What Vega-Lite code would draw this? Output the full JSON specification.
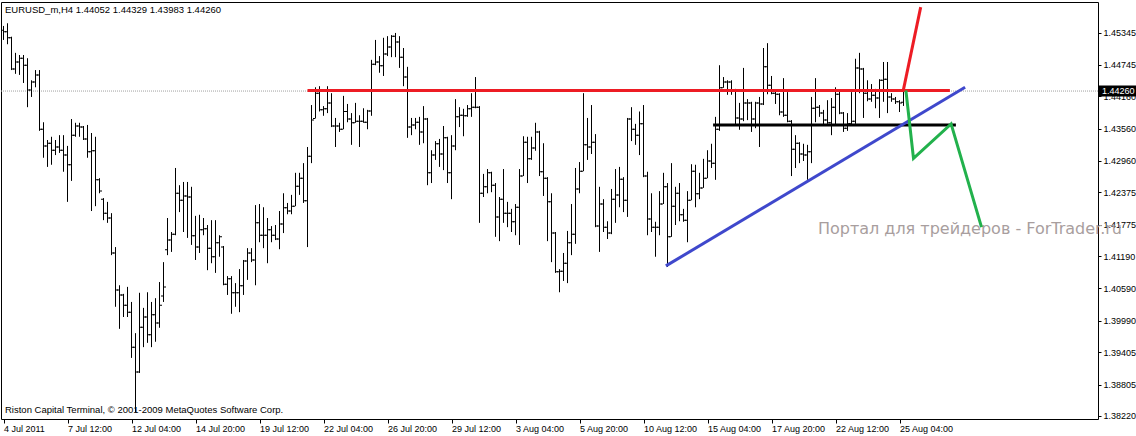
{
  "$schema": "https://vega.github.io/schema/vega-lite/v6.json",
  "width": 1097,
  "height": 417,
  "autosize": {"type": "none"},
  "padding": {"left": 1, "top": 2, "right": 38, "bottom": 17},
  "background": "white",
  "config": {"view": {"stroke": "black", "strokeWidth": 1}, "font": "Liberation Sans", "axis": {"labelOverlap": false, "labelSeparation": 0}},
  "datasets": {
    "bars": [
      {"i":0,"o":1.4539,"h":1.4547,"l":1.4521,"c":1.4536},
      {"i":1,"o":1.4536,"h":1.4552,"l":1.4513,"c":1.4525},
      {"i":2,"o":1.4525,"h":1.4527,"l":1.4465,"c":1.4467},
      {"i":3,"o":1.4467,"h":1.4497,"l":1.4458,"c":1.4480},
      {"i":4,"o":1.4480,"h":1.4493,"l":1.4456,"c":1.4487},
      {"i":5,"o":1.4487,"h":1.4493,"l":1.4441,"c":1.4474},
      {"i":6,"o":1.4474,"h":1.4487,"l":1.4396,"c":1.4428},
      {"i":7,"o":1.4428,"h":1.4446,"l":1.4415,"c":1.4443},
      {"i":8,"o":1.4443,"h":1.4465,"l":1.4433,"c":1.4456},
      {"i":9,"o":1.4456,"h":1.4465,"l":1.4352,"c":1.4355},
      {"i":10,"o":1.4355,"h":1.4368,"l":1.4302,"c":1.4324},
      {"i":11,"o":1.4324,"h":1.4335,"l":1.4285,"c":1.4329},
      {"i":12,"o":1.4329,"h":1.4341,"l":1.4289,"c":1.4316},
      {"i":13,"o":1.4316,"h":1.4335,"l":1.4307,"c":1.4322},
      {"i":14,"o":1.4322,"h":1.4344,"l":1.4311,"c":1.4316},
      {"i":15,"o":1.4316,"h":1.4344,"l":1.4276,"c":1.4307},
      {"i":16,"o":1.4307,"h":1.4324,"l":1.4220,"c":1.4289},
      {"i":17,"o":1.4289,"h":1.4374,"l":1.4259,"c":1.4344},
      {"i":18,"o":1.4344,"h":1.4367,"l":1.4341,"c":1.4361},
      {"i":19,"o":1.4361,"h":1.4367,"l":1.4341,"c":1.4359},
      {"i":20,"o":1.4359,"h":1.4361,"l":1.4335,"c":1.4337},
      {"i":21,"o":1.4337,"h":1.4363,"l":1.4302,"c":1.4313},
      {"i":22,"o":1.4313,"h":1.4348,"l":1.4203,"c":1.4315},
      {"i":23,"o":1.4315,"h":1.4341,"l":1.4212,"c":1.4261},
      {"i":24,"o":1.4261,"h":1.4264,"l":1.4236,"c":1.4240},
      {"i":25,"o":1.4225,"h":1.4227,"l":1.4186,"c":1.4199},
      {"i":26,"o":1.4199,"h":1.4220,"l":1.4181,"c":1.4190},
      {"i":27,"o":1.4190,"h":1.4199,"l":1.4121,"c":1.4125},
      {"i":28,"o":1.4125,"h":1.4136,"l":1.4025,"c":1.4056},
      {"i":29,"o":1.4056,"h":1.4065,"l":1.3984,"c":1.4047},
      {"i":30,"o":1.4047,"h":1.4049,"l":1.4006,"c":1.4028},
      {"i":31,"o":1.4028,"h":1.4062,"l":1.4006,"c":1.4015},
      {"i":32,"o":1.4015,"h":1.4034,"l":1.3930,"c":1.3950},
      {"i":33,"o":1.3950,"h":1.3976,"l":1.3829,"c":1.3904},
      {"i":34,"o":1.3904,"h":1.4051,"l":1.3902,"c":1.3987},
      {"i":35,"o":1.3987,"h":1.4023,"l":1.3950,"c":1.4006},
      {"i":36,"o":1.4006,"h":1.4052,"l":1.3958,"c":1.3973},
      {"i":37,"o":1.3973,"h":1.4034,"l":1.3950,"c":1.4010},
      {"i":38,"o":1.4010,"h":1.4041,"l":1.3960,"c":1.3995},
      {"i":39,"o":1.3995,"h":1.4071,"l":1.3986,"c":1.4028},
      {"i":40,"o":1.4045,"h":1.4108,"l":1.4034,"c":1.4062},
      {"i":41,"o":1.4131,"h":1.4190,"l":1.4121,"c":1.4149},
      {"i":42,"o":1.4149,"h":1.4164,"l":1.4127,"c":1.4160},
      {"i":43,"o":1.4160,"h":1.4283,"l":1.4158,"c":1.4236},
      {"i":44,"o":1.4236,"h":1.4251,"l":1.4201,"c":1.4223},
      {"i":45,"o":1.4223,"h":1.4257,"l":1.4164,"c":1.4231},
      {"i":46,"o":1.4231,"h":1.4257,"l":1.4153,"c":1.4229},
      {"i":47,"o":1.4229,"h":1.4248,"l":1.4140,"c":1.4157},
      {"i":48,"o":1.4157,"h":1.4194,"l":1.4112,"c":1.4136},
      {"i":49,"o":1.4136,"h":1.4196,"l":1.4125,"c":1.4168},
      {"i":50,"o":1.4168,"h":1.4190,"l":1.4158,"c":1.4170},
      {"i":51,"o":1.4170,"h":1.4177,"l":1.4093,"c":1.4134},
      {"i":52,"o":1.4134,"h":1.4186,"l":1.4106,"c":1.4118},
      {"i":53,"o":1.4118,"h":1.4186,"l":1.4088,"c":1.4144},
      {"i":54,"o":1.4144,"h":1.4158,"l":1.4118,"c":1.4155},
      {"i":55,"o":1.4136,"h":1.4138,"l":1.4065,"c":1.4067},
      {"i":56,"o":1.4067,"h":1.4082,"l":1.4047,"c":1.4077},
      {"i":57,"o":1.4077,"h":1.4082,"l":1.4012,"c":1.4051},
      {"i":58,"o":1.4051,"h":1.4069,"l":1.4025,"c":1.4051},
      {"i":59,"o":1.4051,"h":1.4095,"l":1.4015,"c":1.4064},
      {"i":60,"o":1.4064,"h":1.4112,"l":1.4047,"c":1.4110},
      {"i":61,"o":1.4110,"h":1.4134,"l":1.4075,"c":1.4125},
      {"i":62,"o":1.4125,"h":1.4134,"l":1.4108,"c":1.4112},
      {"i":63,"o":1.4112,"h":1.4214,"l":1.4065,"c":1.4181},
      {"i":64,"o":1.4181,"h":1.4216,"l":1.4145,"c":1.4158},
      {"i":65,"o":1.4158,"h":1.4210,"l":1.4134,"c":1.4158},
      {"i":66,"o":1.4158,"h":1.4190,"l":1.4106,"c":1.4168},
      {"i":67,"o":1.4168,"h":1.4175,"l":1.4145,"c":1.4158},
      {"i":68,"o":1.4158,"h":1.4177,"l":1.4149,"c":1.4151},
      {"i":69,"o":1.4151,"h":1.4203,"l":1.4132,"c":1.4179},
      {"i":70,"o":1.4179,"h":1.4236,"l":1.4162,"c":1.4209},
      {"i":71,"o":1.4209,"h":1.4218,"l":1.4197,"c":1.4203},
      {"i":72,"o":1.4203,"h":1.4233,"l":1.4197,"c":1.4212},
      {"i":73,"o":1.4212,"h":1.4274,"l":1.4212,"c":1.4249},
      {"i":74,"o":1.4249,"h":1.4274,"l":1.4233,"c":1.4264},
      {"i":75,"o":1.4264,"h":1.4292,"l":1.4218,"c":1.4222},
      {"i":76,"o":1.4222,"h":1.4322,"l":1.4136,"c":1.4305},
      {"i":77,"o":1.4305,"h":1.4400,"l":1.4292,"c":1.4372},
      {"i":78,"o":1.4375,"h":1.4433,"l":1.4375,"c":1.4422},
      {"i":79,"o":1.4422,"h":1.4435,"l":1.4388,"c":1.4391},
      {"i":80,"o":1.4391,"h":1.4398,"l":1.4380,"c":1.4393},
      {"i":81,"o":1.4393,"h":1.4435,"l":1.4385,"c":1.4404},
      {"i":82,"o":1.4404,"h":1.4422,"l":1.4359,"c":1.4361},
      {"i":83,"o":1.4361,"h":1.4376,"l":1.4322,"c":1.4361},
      {"i":84,"o":1.4361,"h":1.4367,"l":1.4350,"c":1.4355},
      {"i":85,"o":1.4355,"h":1.4417,"l":1.4355,"c":1.4388},
      {"i":86,"o":1.4388,"h":1.4402,"l":1.4368,"c":1.4374},
      {"i":87,"o":1.4374,"h":1.4385,"l":1.4326,"c":1.4367},
      {"i":88,"o":1.4367,"h":1.4404,"l":1.4367,"c":1.4370},
      {"i":89,"o":1.4370,"h":1.4381,"l":1.4322,"c":1.4370},
      {"i":90,"o":1.4370,"h":1.4394,"l":1.4367,"c":1.4368},
      {"i":91,"o":1.4368,"h":1.4391,"l":1.4355,"c":1.4389},
      {"i":92,"o":1.4389,"h":1.4484,"l":1.4380,"c":1.4476},
      {"i":93,"o":1.4476,"h":1.4521,"l":1.4474,"c":1.4480},
      {"i":94,"o":1.4480,"h":1.4491,"l":1.4460,"c":1.4473},
      {"i":95,"o":1.4473,"h":1.4525,"l":1.4454,"c":1.4495},
      {"i":96,"o":1.4495,"h":1.4528,"l":1.4491,"c":1.4508},
      {"i":97,"o":1.4508,"h":1.4530,"l":1.4489,"c":1.4528},
      {"i":98,"o":1.4528,"h":1.4534,"l":1.4489,"c":1.4517},
      {"i":99,"o":1.4517,"h":1.4528,"l":1.4469,"c":1.4489},
      {"i":100,"o":1.4489,"h":1.4506,"l":1.4435,"c":1.4452},
      {"i":101,"o":1.4452,"h":1.4471,"l":1.4339,"c":1.4359},
      {"i":102,"o":1.4359,"h":1.4376,"l":1.4344,"c":1.4363},
      {"i":103,"o":1.4363,"h":1.4376,"l":1.4355,"c":1.4368},
      {"i":104,"o":1.4368,"h":1.4378,"l":1.4326,"c":1.4350},
      {"i":105,"o":1.4350,"h":1.4398,"l":1.4329,"c":1.4374},
      {"i":106,"o":1.4374,"h":1.4376,"l":1.4251,"c":1.4274},
      {"i":107,"o":1.4274,"h":1.4316,"l":1.4255,"c":1.4307},
      {"i":108,"o":1.4307,"h":1.4333,"l":1.4298,"c":1.4328},
      {"i":109,"o":1.4328,"h":1.4337,"l":1.4285,"c":1.4309},
      {"i":110,"o":1.4309,"h":1.4361,"l":1.4279,"c":1.4339},
      {"i":111,"o":1.4339,"h":1.4341,"l":1.4255,"c":1.4274},
      {"i":112,"o":1.4274,"h":1.4344,"l":1.4225,"c":1.4324},
      {"i":113,"o":1.4324,"h":1.4411,"l":1.4316,"c":1.4378},
      {"i":114,"o":1.4378,"h":1.4396,"l":1.4359,"c":1.4381},
      {"i":115,"o":1.4381,"h":1.4393,"l":1.4342,"c":1.4380},
      {"i":116,"o":1.4380,"h":1.4400,"l":1.4378,"c":1.4393},
      {"i":117,"o":1.4393,"h":1.4422,"l":1.4378,"c":1.4396},
      {"i":118,"o":1.4396,"h":1.4452,"l":1.4394,"c":1.4396},
      {"i":119,"o":1.4396,"h":1.4398,"l":1.4181,"c":1.4236},
      {"i":120,"o":1.4236,"h":1.4272,"l":1.4229,"c":1.4248},
      {"i":121,"o":1.4248,"h":1.4281,"l":1.4236,"c":1.4274},
      {"i":122,"o":1.4274,"h":1.4276,"l":1.4238,"c":1.4251},
      {"i":123,"o":1.4251,"h":1.4255,"l":1.4155,"c":1.4192},
      {"i":124,"o":1.4192,"h":1.4229,"l":1.4147,"c":1.4225},
      {"i":125,"o":1.4225,"h":1.4281,"l":1.4181,"c":1.4199},
      {"i":126,"o":1.4199,"h":1.4220,"l":1.4173,"c":1.4199},
      {"i":127,"o":1.4199,"h":1.4207,"l":1.4164,"c":1.4183},
      {"i":128,"o":1.4183,"h":1.4216,"l":1.4158,"c":1.4210},
      {"i":129,"o":1.4210,"h":1.4281,"l":1.4140,"c":1.4268},
      {"i":130,"o":1.4268,"h":1.4342,"l":1.4268,"c":1.4331},
      {"i":131,"o":1.4331,"h":1.4341,"l":1.4255,"c":1.4300},
      {"i":132,"o":1.4300,"h":1.4341,"l":1.4298,"c":1.4320},
      {"i":133,"o":1.4320,"h":1.4367,"l":1.4315,"c":1.4350},
      {"i":134,"o":1.4350,"h":1.4352,"l":1.4268,"c":1.4276},
      {"i":135,"o":1.4276,"h":1.4329,"l":1.4231,"c":1.4264},
      {"i":136,"o":1.4264,"h":1.4266,"l":1.4147,"c":1.4220},
      {"i":137,"o":1.4220,"h":1.4236,"l":1.4108,"c":1.4162},
      {"i":138,"o":1.4162,"h":1.4164,"l":1.4088,"c":1.4090},
      {"i":139,"o":1.4090,"h":1.4095,"l":1.4052,"c":1.4091},
      {"i":140,"o":1.4091,"h":1.4125,"l":1.4073,"c":1.4106},
      {"i":141,"o":1.4106,"h":1.4166,"l":1.4069,"c":1.4144},
      {"i":142,"o":1.4144,"h":1.4216,"l":1.4121,"c":1.4160},
      {"i":143,"o":1.4160,"h":1.4283,"l":1.4142,"c":1.4244},
      {"i":144,"o":1.4244,"h":1.4294,"l":1.4236,"c":1.4277},
      {"i":145,"o":1.4277,"h":1.4422,"l":1.4277,"c":1.4326},
      {"i":146,"o":1.4326,"h":1.4376,"l":1.4298,"c":1.4322},
      {"i":147,"o":1.4322,"h":1.4400,"l":1.4309,"c":1.4331},
      {"i":148,"o":1.4331,"h":1.4346,"l":1.4173,"c":1.4175},
      {"i":149,"o":1.4175,"h":1.4248,"l":1.4127,"c":1.4216},
      {"i":150,"o":1.4216,"h":1.4225,"l":1.4164,"c":1.4173},
      {"i":151,"o":1.4173,"h":1.4184,"l":1.4151,"c":1.4162},
      {"i":152,"o":1.4162,"h":1.4244,"l":1.4160,"c":1.4225},
      {"i":153,"o":1.4225,"h":1.4281,"l":1.4181,"c":1.4233},
      {"i":154,"o":1.4233,"h":1.4285,"l":1.4210,"c":1.4262},
      {"i":155,"o":1.4262,"h":1.4266,"l":1.4201,"c":1.4223},
      {"i":156,"o":1.4223,"h":1.4376,"l":1.4192,"c":1.4374},
      {"i":157,"o":1.4374,"h":1.4396,"l":1.4333,"c":1.4355},
      {"i":158,"o":1.4355,"h":1.4365,"l":1.4326,"c":1.4344},
      {"i":159,"o":1.4344,"h":1.4388,"l":1.4307,"c":1.4365},
      {"i":160,"o":1.4365,"h":1.4400,"l":1.4266,"c":1.4268},
      {"i":161,"o":1.4268,"h":1.4276,"l":1.4158,"c":1.4188},
      {"i":162,"o":1.4188,"h":1.4236,"l":1.4164,"c":1.4173},
      {"i":163,"o":1.4173,"h":1.4183,"l":1.4118,"c":1.4173},
      {"i":164,"o":1.4173,"h":1.4240,"l":1.4158,"c":1.4216},
      {"i":165,"o":1.4216,"h":1.4274,"l":1.4216,"c":1.4248},
      {"i":166,"o":1.4248,"h":1.4255,"l":1.4099,"c":1.4155},
      {"i":167,"o":1.4155,"h":1.4292,"l":1.4155,"c":1.4212},
      {"i":168,"o":1.4212,"h":1.4248,"l":1.4177,"c":1.4236},
      {"i":169,"o":1.4236,"h":1.4255,"l":1.4184,"c":1.4196},
      {"i":170,"o":1.4196,"h":1.4207,"l":1.4183,"c":1.4186},
      {"i":171,"o":1.4186,"h":1.4240,"l":1.4145,"c":1.4223},
      {"i":172,"o":1.4223,"h":1.4290,"l":1.4223,"c":1.4277},
      {"i":173,"o":1.4277,"h":1.4289,"l":1.4210,"c":1.4235},
      {"i":174,"o":1.4235,"h":1.4274,"l":1.4225,"c":1.4246},
      {"i":175,"o":1.4246,"h":1.4300,"l":1.4246,"c":1.4264},
      {"i":176,"o":1.4264,"h":1.4316,"l":1.4264,"c":1.4296},
      {"i":177,"o":1.4296,"h":1.4328,"l":1.4283,"c":1.4292},
      {"i":178,"o":1.4292,"h":1.4378,"l":1.4261,"c":1.4355},
      {"i":179,"o":1.4355,"h":1.4474,"l":1.4352,"c":1.4432},
      {"i":180,"o":1.4432,"h":1.4452,"l":1.4432,"c":1.4443},
      {"i":181,"o":1.4443,"h":1.4446,"l":1.4419,"c":1.4443},
      {"i":182,"o":1.4443,"h":1.4446,"l":1.4419,"c":1.4428},
      {"i":183,"o":1.4428,"h":1.4430,"l":1.4363,"c":1.4376},
      {"i":184,"o":1.4376,"h":1.4404,"l":1.4354,"c":1.4374},
      {"i":185,"o":1.4374,"h":1.4469,"l":1.4370,"c":1.4404},
      {"i":186,"o":1.4404,"h":1.4411,"l":1.4372,"c":1.4404},
      {"i":187,"o":1.4404,"h":1.4406,"l":1.4350,"c":1.4374},
      {"i":188,"o":1.4374,"h":1.4406,"l":1.4357,"c":1.4404},
      {"i":189,"o":1.4404,"h":1.4415,"l":1.4322,"c":1.4402},
      {"i":190,"o":1.4402,"h":1.4506,"l":1.4400,"c":1.4471},
      {"i":191,"o":1.4471,"h":1.4515,"l":1.4420,"c":1.4437},
      {"i":192,"o":1.4437,"h":1.4454,"l":1.4420,"c":1.4422},
      {"i":193,"o":1.4422,"h":1.4428,"l":1.4402,"c":1.4420},
      {"i":194,"o":1.4420,"h":1.4422,"l":1.4381,"c":1.4387},
      {"i":195,"o":1.4387,"h":1.4450,"l":1.4378,"c":1.4381},
      {"i":196,"o":1.4381,"h":1.4424,"l":1.4368,"c":1.4370},
      {"i":197,"o":1.4370,"h":1.4372,"l":1.4268,"c":1.4318},
      {"i":198,"o":1.4318,"h":1.4344,"l":1.4283,"c":1.4329},
      {"i":199,"o":1.4329,"h":1.4331,"l":1.4292,"c":1.4309},
      {"i":200,"o":1.4309,"h":1.4328,"l":1.4296,"c":1.4307},
      {"i":201,"o":1.4307,"h":1.4326,"l":1.4261,"c":1.4313},
      {"i":202,"o":1.4313,"h":1.4415,"l":1.4292,"c":1.4394},
      {"i":203,"o":1.4394,"h":1.4450,"l":1.4368,"c":1.4396},
      {"i":204,"o":1.4396,"h":1.4400,"l":1.4378,"c":1.4385},
      {"i":205,"o":1.4385,"h":1.4391,"l":1.4363,"c":1.4372},
      {"i":206,"o":1.4372,"h":1.4409,"l":1.4365,"c":1.4367},
      {"i":207,"o":1.4367,"h":1.4413,"l":1.4344,"c":1.4396},
      {"i":208,"o":1.4396,"h":1.4433,"l":1.4363,"c":1.4420},
      {"i":209,"o":1.4420,"h":1.4426,"l":1.4383,"c":1.4385},
      {"i":210,"o":1.4385,"h":1.4387,"l":1.4350,"c":1.4357},
      {"i":211,"o":1.4357,"h":1.4385,"l":1.4352,"c":1.4365},
      {"i":212,"o":1.4365,"h":1.4424,"l":1.4363,"c":1.4370},
      {"i":213,"o":1.4370,"h":1.4486,"l":1.4365,"c":1.4469},
      {"i":214,"o":1.4469,"h":1.4497,"l":1.4422,"c":1.4467},
      {"i":215,"o":1.4467,"h":1.4469,"l":1.4376,"c":1.4422},
      {"i":216,"o":1.4422,"h":1.4446,"l":1.4407,"c":1.4411},
      {"i":217,"o":1.4411,"h":1.4439,"l":1.4406,"c":1.4418},
      {"i":218,"o":1.4418,"h":1.4430,"l":1.4394,"c":1.4413},
      {"i":219,"o":1.4413,"h":1.4448,"l":1.4376,"c":1.4446},
      {"i":220,"o":1.4446,"h":1.4480,"l":1.4406,"c":1.4448},
      {"i":221,"o":1.4448,"h":1.4480,"l":1.4385,"c":1.4415},
      {"i":222,"o":1.4415,"h":1.4422,"l":1.4406,"c":1.4411},
      {"i":223,"o":1.4411,"h":1.4415,"l":1.4402,"c":1.4406},
      {"i":224,"o":1.4406,"h":1.4409,"l":1.4387,"c":1.4404},
      {"i":225,"o":1.44052,"h":1.44329,"l":1.43983,"c":1.44260}
    ],
    "lines": [
      {"id":"support","k":0,"i":177.4,"p":1.4363},
      {"id":"support","k":1,"i":238.1,"p":1.4363},
      {"id":"trend","k":0,"i":165.6,"p":1.4101},
      {"id":"trend","k":1,"i":240.4,"p":1.4433},
      {"id":"resistance","k":0,"i":76,"p":1.4427},
      {"id":"resistance","k":1,"i":236.6,"p":1.4427},
      {"id":"breakout","k":0,"i":225,"p":1.4429},
      {"id":"breakout","k":1,"i":229.3,"p":1.4582},
      {"id":"forecast","k":0,"i":225.6,"p":1.4427},
      {"id":"forecast","k":1,"i":227.5,"p":1.4301},
      {"id":"forecast","k":2,"i":236.9,"p":1.4365},
      {"id":"forecast","k":3,"i":244.5,"p":1.4173}
    ],
    "last": [{"price": 1.4426}]
  },
  "layer": [
    {
      "data": {"name": "last"},
      "mark": {"type": "rule", "color": "#a0a0a0", "strokeDash": [1, 1], "strokeWidth": 1},
      "encoding": {
        "y": {
          "field": "price", "type": "quantitative",
          "scale": {"domain": [1.381642, 1.459151], "nice": false, "zero": false},
          "axis": {
            "orient": "right",
            "values": [1.45345, 1.44745, 1.4416, 1.4356, 1.4296, 1.42375, 1.41775, 1.4119, 1.4059, 1.3999, 1.39405, 1.38805, 1.3822],
            "tickCount": 30,
            "format": ".5f", "tickSize": 3, "tickColor": "black", "labelPadding": 2, "labelFontSize": 9,
            "labelFont": "Liberation Sans", "labelColor": "black", "domain": false, "grid": false, "title": null,
            "labelFlush": false, "labelOverlap": false, "labelSeparation": 0, "labelBaseline": "middle"
          }
        }
      }
    },
    {
      "data": {"values": [{}]},
      "mark": {"type": "text", "align": "left", "baseline": "middle", "fontSize": 16, "font": "DejaVu Sans", "color": "#a89e9e", "text": "Портал для трейдеров - ForTrader.ru"},
      "encoding": {
        "x": {"datum": 203.6, "type": "quantitative", "scale": {"domain": [-0.625, 273.625], "nice": false, "zero": false}},
        "y": {"datum": 1.41696, "type": "quantitative", "scale": {"domain": [1.381642, 1.459151], "nice": false, "zero": false}}
      }
    },
    {
      "data": {"name": "bars"},
      "mark": {"type": "rule", "color": "black", "strokeWidth": 1, "opacity": 1},
      "encoding": {
        "x": {
          "field": "i", "type": "quantitative",
          "scale": {"domain": [-0.625, 273.625], "nice": false, "zero": false},
          "axis": {
            "orient": "bottom", "values": [0, 16, 32, 48, 64, 80, 96, 112, 128, 144, 160, 176, 192, 208, 224],
            "tickCount": 40,
            "labelExpr": "['4 Jul 2011','7 Jul 12:00','12 Jul 04:00','14 Jul 20:00','19 Jul 12:00','22 Jul 04:00','26 Jul 20:00','29 Jul 12:00','3 Aug 04:00','5 Aug 20:00','10 Aug 12:00','15 Aug 04:00','17 Aug 20:00','22 Aug 12:00','25 Aug 04:00'][round(datum.value/16)]",
            "labelAlign": "left", "labelBaseline": "top", "labelPadding": 1, "tickSize": 4, "tickColor": "black",
            "labelFontSize": 9, "labelFont": "Liberation Sans", "labelColor": "black", "domain": false, "grid": false,
            "title": null, "labelFlush": false, "labelOverlap": false, "labelBound": false
          }
        },
        "y": {
          "field": "l", "type": "quantitative",
          "scale": {"domain": [1.381642, 1.459151], "nice": false, "zero": false},
          "axis": {
            "orient": "right",
            "values": [1.45345, 1.44745, 1.4416, 1.4356, 1.4296, 1.42375, 1.41775, 1.4119, 1.4059, 1.3999, 1.39405, 1.38805, 1.3822],
            "tickCount": 30,
            "format": ".5f", "tickSize": 3, "tickColor": "black", "labelPadding": 2, "labelFontSize": 9,
            "labelFont": "Liberation Sans", "labelColor": "black", "domain": false, "grid": false, "title": null,
            "labelFlush": false, "labelOverlap": false, "labelSeparation": 0, "labelBaseline": "middle"
          }
        },
        "y2": {"field": "h"}
      }
    },
    {
      "data": {"name": "bars"},
      "mark": {"type": "tick", "orient": "horizontal", "size": 2, "thickness": 1, "xOffset": -1.5, "color": "black", "opacity": 1},
      "encoding": {
        "x": {"field": "i", "type": "quantitative", "scale": {"domain": [-0.625, 273.625], "nice": false, "zero": false}},
        "y": {"field": "o", "type": "quantitative", "scale": {"domain": [1.381642, 1.459151], "nice": false, "zero": false}}
      }
    },
    {
      "data": {"name": "bars"},
      "mark": {"type": "tick", "orient": "horizontal", "size": 2, "thickness": 1, "xOffset": 1.5, "color": "black", "opacity": 1},
      "encoding": {
        "x": {"field": "i", "type": "quantitative", "scale": {"domain": [-0.625, 273.625], "nice": false, "zero": false}},
        "y": {"field": "c", "type": "quantitative", "scale": {"domain": [1.381642, 1.459151], "nice": false, "zero": false}}
      }
    },
    {
      "data": {"name": "lines"},
      "mark": {"type": "line", "strokeWidth": 3, "opacity": 1},
      "encoding": {
        "x": {"field": "i", "type": "quantitative", "scale": {"domain": [-0.625, 273.625], "nice": false, "zero": false}},
        "y": {"field": "p", "type": "quantitative", "scale": {"domain": [1.381642, 1.459151], "nice": false, "zero": false}},
        "order": {"field": "k", "type": "quantitative"},
        "color": {
          "field": "id", "type": "nominal", "legend": null,
          "scale": {"domain": ["support", "trend", "resistance", "breakout", "forecast"], "range": ["#000000", "#3f48cc", "#ed1c24", "#ed1c24", "#22b14c"]}
        }
      }
    },
    {
      "data": {"name": "last"},
      "mark": {"type": "tick", "orient": "horizontal", "size": 37, "thickness": 11, "color": "black", "opacity": 1},
      "encoding": {
        "x": {"datum": 278.5, "type": "quantitative", "scale": {"domain": [-0.625, 273.625], "nice": false, "zero": false}},
        "y": {"field": "price", "type": "quantitative", "scale": {"domain": [1.381642, 1.459151], "nice": false, "zero": false}}
      }
    },
    {
      "data": {"name": "last"},
      "mark": {"type": "text", "align": "left", "baseline": "middle", "fontSize": 9, "font": "Liberation Sans", "color": "white"},
      "encoding": {
        "x": {"datum": 274.6, "type": "quantitative", "scale": {"domain": [-0.625, 273.625], "nice": false, "zero": false}},
        "y": {"field": "price", "type": "quantitative", "scale": {"domain": [1.381642, 1.459151], "nice": false, "zero": false}},
        "text": {"field": "price", "type": "quantitative", "format": ".5f"}
      }
    },
    {
      "data": {"values": [{}]},
      "mark": {"type": "text", "align": "left", "baseline": "middle", "fontSize": 9.5, "font": "Liberation Sans", "color": "black", "text": "EURUSD_m,H4  1.44052 1.44329 1.43983 1.44260"},
      "encoding": {
        "x": {"datum": 0.375, "type": "quantitative", "scale": {"domain": [-0.625, 273.625], "nice": false, "zero": false}},
        "y": {"datum": 1.45766, "type": "quantitative", "scale": {"domain": [1.381642, 1.459151], "nice": false, "zero": false}}
      }
    },
    {
      "data": {"values": [{}]},
      "mark": {"type": "text", "align": "left", "baseline": "middle", "fontSize": 9.5, "font": "Liberation Sans", "color": "black", "text": "Riston Capital Terminal, © 2001-2009 MetaQuotes Software Corp."},
      "encoding": {
        "x": {"datum": 0.375, "type": "quantitative", "scale": {"domain": [-0.625, 273.625], "nice": false, "zero": false}},
        "y": {"datum": 1.38331, "type": "quantitative", "scale": {"domain": [1.381642, 1.459151], "nice": false, "zero": false}}
      }
    }
  ]
}
